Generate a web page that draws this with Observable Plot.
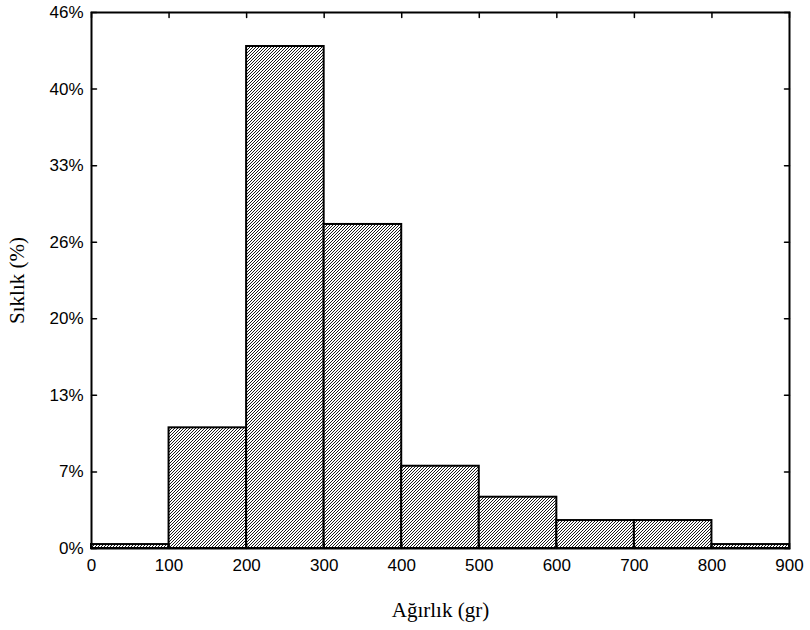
<!DOCTYPE html>
<html>
<head>
<meta charset="utf-8">
<script src="https://cdn.jsdelivr.net/npm/d3@7"></script>
<script src="https://cdn.jsdelivr.net/npm/@observablehq/plot@0.6"></script>
<style>
  body { margin: 0; background: #fff; }
  svg text { fill: #000; }
  g[aria-label="x-axis label"] text, g[aria-label="y-axis label"] text {
    font-family: "Liberation Serif", "Times New Roman", serif;
    font-size: 21px;
  }
</style>
</head>
<body>
<div id="chart"></div>
<script>
const binStart = [0, 100, 200, 300, 400, 500, 600, 700, 800];
const binEnd   = [100, 200, 300, 400, 500, 600, 700, 800, 900];
const freqPct  = [0.34, 10.4, 43.27, 27.93, 7.09, 4.42, 2.41, 2.41, 0.34];
const xTicks = [0, 100, 200, 300, 400, 500, 600, 700, 800, 900];
const yTicks = [0, 6.6, 13.2, 19.8, 26.4, 33, 39.6, 46.2];
const yTickLabels = ["0%", "7%", "13%", "20%", "26%", "33%", "40%", "46%"];
const xTitle = "Ağırlık (gr)";
const yTitle = "Sıklık (%)";

const bins = binStart.map((s, i) => ({x1: s, x2: binEnd[i], y: freqPct[i]}));
const tickShape = {draw(ctx, l) { ctx.moveTo(0, 0); ctx.lineTo(0, -l); }};
const tickOpts = {length: 5, anchor: "start", shape: tickShape, stroke: "black", strokeWidth: 1.5};

const plot = Plot.plot({
  width: 810,
  height: 630,
  marginLeft: 91,
  marginRight: 21,
  marginTop: 12,
  marginBottom: 82,
  style: {fontFamily: "'Liberation Sans', Arial, sans-serif", fontSize: "17px", background: "#fff", color: "#000"},
  x: {domain: [0, 900]},
  y: {domain: [0, 46.2]},
  marks: [
    Plot.rectY(bins, {x1: "x1", x2: "x2", y: "y", fill: "url(#hatch)", stroke: "black", strokeWidth: 2}),
    Plot.vector(xTicks, {...tickOpts, x: d => d, y: 0, rotate: 0}),
    Plot.vector(xTicks, {...tickOpts, x: d => d, y: 46.2, rotate: 180}),
    Plot.vector(yTicks, {...tickOpts, x: 0, y: d => d, rotate: 90}),
    Plot.vector(yTicks, {...tickOpts, x: 900, y: d => d, rotate: 270}),
    Plot.axisX({ticks: xTicks, tickSize: 0, tickPadding: 10, label: xTitle, labelAnchor: "center", labelArrow: "none", labelOffset: 68}),
    Plot.axisY({ticks: yTicks, tickSize: 0, tickPadding: 8, tickFormat: (d, i) => yTickLabels[yTicks.indexOf(d)], label: yTitle, labelAnchor: "center", labelArrow: "none", labelOffset: 82}),
    Plot.frame({stroke: "black", strokeWidth: 2})
  ]
});

const ns = "http://www.w3.org/2000/svg";
const defs = document.createElementNS(ns, "defs");
defs.innerHTML = `<pattern id="hatch" patternUnits="userSpaceOnUse" width="3" height="3">
  <rect width="3" height="3" fill="white"/>
  <path d="M-0.75,0.75 l1.5,-1.5 M0,3 l3,-3 M2.25,3.75 l1.5,-1.5" stroke="black" stroke-width="0.9"/>
</pattern>`;
plot.insertBefore(defs, plot.firstChild);
document.getElementById("chart").appendChild(plot);
</script>
</body>
</html>
